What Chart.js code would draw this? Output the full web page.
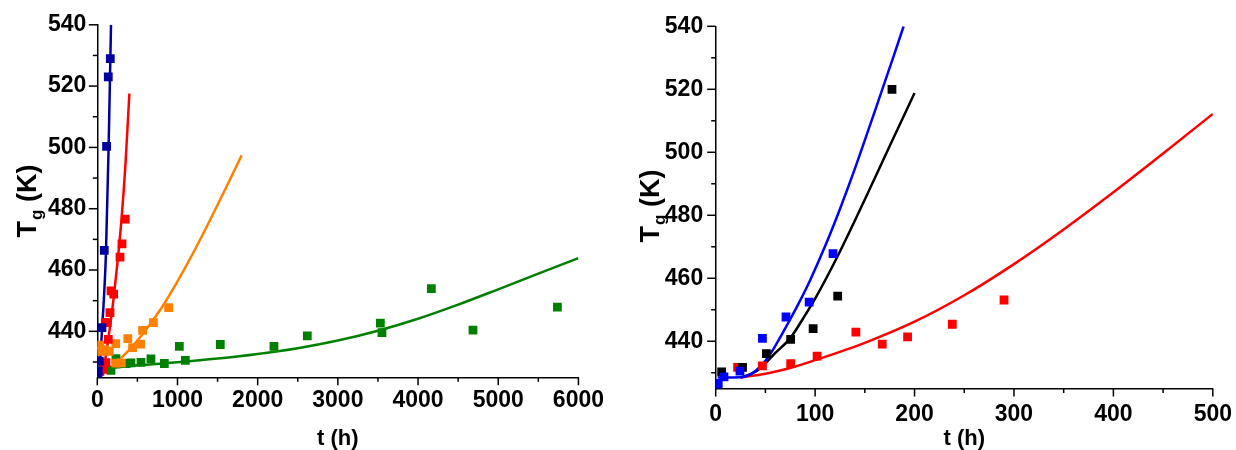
<!DOCTYPE html>
<html>
<head>
<meta charset="utf-8">
<script src="https://cdn.jsdelivr.net/npm/chart.js@4.4.0/dist/chart.umd.min.js"></script>
<style>
  body { margin: 0; background: #fff; width: 1236px; height: 450px; overflow: hidden; position: relative; font-family: "Liberation Sans", Arial, sans-serif; }
  canvas { position: absolute; top: 0; }
  .ytitle { position: absolute; width: 200px; height: 30px; line-height: 30px; text-align: center; font-weight: bold; font-size: 27px; transform: rotate(-90deg); color: #000; }
  .ytitle sub { font-size: 17px; margin-left: 1px; }
</style>
</head>
<body>
<canvas id="leftChart" width="614" height="450" style="left:0"></canvas>
<canvas id="rightChart" width="624" height="450" style="left:620px"></canvas>
<div class="ytitle" style="left:-73px; top:186px">T<sub>g</sub> (K)</div>
<div class="ytitle" style="left:550px; top:191px">T<sub>g</sub> (K)</div>
<script>
// ---- tick values ----
const tgMajor = [440, 460, 480, 500, 520, 540];
const tgMinor = [430, 450, 470, 490, 510, 530];
const leftTMajor = [0, 1000, 2000, 3000, 4000, 5000, 6000];
const leftTMinor = [500, 1500, 2500, 3500, 4500, 5500];
const rightTMajor = [0, 100, 200, 300, 400, 500];
const rightTMinor = [50, 150, 250, 350, 450];

// ---- left panel: measured points ----
const blueT = [8, 12, 25, 58, 87, 116, 137, 162];
const blueTg = [425.4, 427.1, 430.3, 441.2, 466.4, 500.3, 523, 529];
const redT = [75, 108, 100, 125, 137, 158, 171, 205, 283, 308, 349];
const redTg = [427.6, 429.8, 442.8, 442.8, 437.4, 446.1, 453.2, 452.1, 464.2, 468.5, 476.6];
const orangeT = [30, 40, 90, 150, 230, 230, 300, 380, 440, 540, 565, 700, 890];
const orangeTg = [435.5, 433.5, 434, 433.5, 436, 429.6, 429.7, 437.6, 434.7, 435.8, 440.3, 442.8, 447.7];
const greenT = [171, 233, 358, 420, 545, 669, 836, 1023, 1098, 1534, 2203, 2619, 3530, 3550, 4166, 4685, 5738];
const greenTg = [427.3, 431.1, 429.5, 429.7, 429.9, 431, 429.5, 435.1, 430.5, 435.7, 435.1, 438.5, 442.7, 439.6, 453.9, 440.4, 447.9];

// ---- left panel: fitted curves ----
const blueFitT = [25, 58, 85, 108, 141, 171];
const blueFitTg = [425.4, 440, 452, 465.6, 500, 540];
const redFitT = [70, 100, 150, 200, 250, 300, 350, 400];
const redFitTg = [425.5, 431, 440, 450, 462, 476, 494, 517.6];
const orangeFitT = [295, 400, 500, 600, 800, 1000, 1200, 1400, 1600, 1800];
const orangeFitTg = [431.2, 434, 437, 440.3, 447.6, 456.3, 465.8, 476, 486.6, 497.4];
const greenFitT = [100, 500, 1000, 1500, 2000, 2500, 3000, 3500, 4000, 4500, 5000, 5500, 6000];
const greenFitTg = [427.8, 428.9, 429.9, 431.1, 432.6, 434.5, 437, 440.2, 444.1, 448.7, 453.7, 458.8, 463.9];

// ---- right panel: measured points ----
const rBlueT = [2, 2.6, 8.3, 24.4, 47, 70.7, 94, 118];
const rBlueTg = [425.3, 426.6, 428.7, 430.5, 440.9, 447.7, 452.4, 467.8];
const rBlackT = [6, 27, 51, 75.4, 98, 122.7, 177.3];
const rBlackTg = [430.3, 431.7, 436.1, 440.6, 444, 454.3, 520];
const rRedT = [22, 47, 75.4, 102, 141, 167.5, 193, 238, 290];
const rRedTg = [431.7, 432.2, 432.9, 435.3, 442.9, 439.1, 441.4, 445.4, 453.1];

// ---- right panel: fitted curves ----
const rBlueFitT = [2, 25, 35, 45, 55, 65, 75, 85, 95, 105, 115, 125, 140, 160, 180, 189];
const rBlueFitTg = [428.5, 428.6, 429.5, 432, 436, 441.3, 447, 453, 459.4, 466.5, 474, 482, 494.8, 513, 531.5, 540];
const rBlackFitT = [25, 40, 50, 60, 75, 90, 100, 125, 150, 175, 200];
const rBlackFitTg = [428.5, 430.3, 433, 436.3, 441, 448.3, 453.5, 468.5, 485, 502, 518.8];
const rRedFitT = [25, 50, 75, 100, 150, 200, 250, 300, 350, 400, 450, 500];
const rRedFitTg = [428.5, 429.7, 431.5, 434, 439.5, 446.2, 454.6, 464.5, 475.5, 487.3, 499.6, 512.2];

const FONT = "'Liberation Sans', Arial, sans-serif";

function toXY(xs, ys) {
  return xs.map((x, i) => ({ x: x, y: ys[i] }));
}

function pointSet(xs, ys, color) {
  return {
    data: toXY(xs, ys),
    backgroundColor: color,
    borderColor: color,
    pointStyle: 'rect',
    pointRadius: 6.2,
    borderWidth: 0,
    order: 1,
  };
}

function curveSet(xs, ys, color) {
  return {
    data: toXY(xs, ys),
    showLine: true,
    borderColor: color,
    borderWidth: 2.5,
    pointRadius: 0,
    cubicInterpolationMode: 'monotone',
    fill: false,
    order: 2,
  };
}

// draws long ticks at labelled values and short ticks between
const tickMarks = {
  id: 'tickMarks',
  afterDraw(chart, args, opts) {
    const ctx = chart.ctx;
    const xs = chart.scales.x;
    const ys = chart.scales.y;
    ctx.save();
    ctx.strokeStyle = '#000';
    ctx.lineWidth = 1.5;
    xs.ticks.forEach((t) => {
      const px = xs.getPixelForValue(t.value);
      const len = opts.xMajor.includes(t.value) ? 8 : 4.5;
      ctx.beginPath();
      ctx.moveTo(px, xs.top);
      ctx.lineTo(px, xs.top + len);
      ctx.stroke();
    });
    ys.ticks.forEach((t) => {
      const py = ys.getPixelForValue(t.value);
      const len = tgMajor.includes(t.value) ? 8.5 : 4.5;
      ctx.beginPath();
      ctx.moveTo(ys.right, py);
      ctx.lineTo(ys.right - len, py);
      ctx.stroke();
    });
    ctx.restore();
  },
};

function makeChart(id, datasets, xMax, xMajor, xMinor, box) {
  const xAll = xMajor.concat(xMinor).sort((a, b) => a - b);
  const yAll = tgMajor.concat(tgMinor).sort((a, b) => a - b);
  return new Chart(document.getElementById(id), {
    type: 'scatter',
    data: { datasets: datasets },
    plugins: [tickMarks],
    options: {
      responsive: false,
      animation: false,
      events: [],
      layout: { padding: { top: box.top, right: 0, bottom: 0, left: 0 } },
      plugins: {
        legend: { display: false },
        tooltip: { enabled: false },
        tickMarks: { xMajor: xMajor },
      },
      scales: {
        x: {
          type: 'linear',
          min: 0,
          max: xMax,
          afterBuildTicks: (scale) => { scale.ticks = xAll.map((v) => ({ value: v })); },
          afterFit: (scale) => { scale.height = box.xHeight; },
          grid: { display: true, drawOnChartArea: false, drawTicks: false },
          border: { display: true, color: '#000', width: 1.5 },
          ticks: {
            autoSkip: false,
            maxRotation: 0,
            padding: box.xPad,
            color: '#000',
            font: { family: FONT, size: 23, weight: 'bold' },
            callback: (v) => (xMajor.includes(v) ? String(v) : ''),
          },
          title: {
            display: true,
            text: 't (h)',
            color: '#000',
            padding: { top: 0, bottom: 0 },
            font: { family: FONT, size: 22, weight: 'bold', lineHeight: 1 },
          },
        },
        y: {
          type: 'linear',
          min: 425,
          max: 540,
          afterBuildTicks: (scale) => { scale.ticks = yAll.map((v) => ({ value: v })); },
          afterFit: (scale) => { scale.width = box.yWidth; },
          grid: { display: true, drawOnChartArea: false, drawTicks: false },
          border: { display: true, color: '#000', width: 1.5 },
          ticks: {
            autoSkip: false,
            padding: box.yPad,
            color: '#000',
            font: { family: FONT, size: 23, weight: 'bold' },
            callback: (v) => (tgMajor.includes(v) ? String(v) : ''),
          },
        },
      },
    },
  });
}

makeChart('leftChart', [
  pointSet(blueT, blueTg, '#0000A0'),
  pointSet(redT, redTg, '#FF0000'),
  pointSet(orangeT, orangeTg, '#FF8000'),
  pointSet(greenT, greenTg, '#008000'),
  curveSet(blueFitT, blueFitTg, '#0000A0'),
  curveSet(redFitT, redFitTg, '#FF0000'),
  curveSet(orangeFitT, orangeFitTg, '#FF8000'),
  curveSet(greenFitT, greenFitTg, '#008000'),
], 6000, leftTMajor, leftTMinor, { top: 24.7, xHeight: 72.7, yWidth: 97.3, xPad: 10, yPad: 11 });

makeChart('rightChart', [
  pointSet(rBlueT, rBlueTg, '#0000FF'),
  pointSet(rBlackT, rBlackTg, '#000000'),
  pointSet(rRedT, rRedTg, '#FF0000'),
  curveSet(rBlueFitT, rBlueFitTg, '#0000FF'),
  curveSet(rBlackFitT, rBlackFitTg, '#000000'),
  curveSet(rRedFitT, rRedFitTg, '#FF0000'),
], 500, rightTMajor, rightTMinor, { top: 25, xHeight: 61.5, yWidth: 95.7, xPad: 12, yPad: 12.5 });
</script>
</body>
</html>
